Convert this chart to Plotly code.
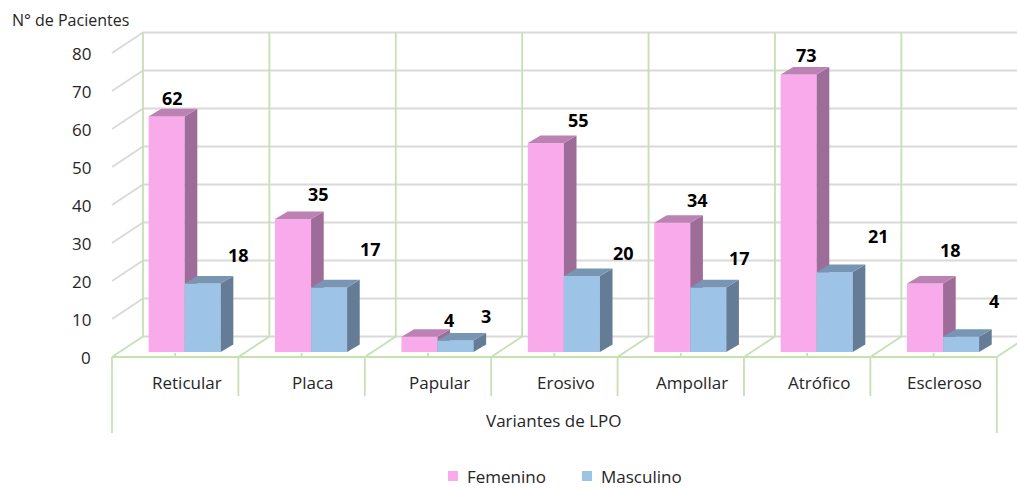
import plotly.graph_objects as go

# ---- data -------------------------------------------------------------
categories = ["Reticular", "Placa", "Papular", "Erosivo", "Ampollar", "Atrófico", "Escleroso"]
femenino = [62, 35, 4, 55, 34, 73, 18]
masculino = [18, 17, 3, 20, 17, 21, 4]
y_ticks = [0, 10, 20, 30, 40, 50, 60, 70, 80]

# value-label nudges in px (right, up) from each bar's front-top centre
fem_label_shift = [(6, 18), (25, 25), (30, 17), (33, 23), (25, 23), (8, 20), (25, 34)]
mas_label_shift = [(36, 29), (41, 38), (31, 25), (42, 23), (31, 29), (44, 36), (33, 36)]

# ---- pseudo-3D geometry (category units on x, value units on y) --------
WALL_DX, WALL_DY = 0.245, 5.4      # depth of the back wall
BAR_DX, BAR_DY = 0.10, 2.0         # depth of each bar
BAR_OFF_X, BAR_OFF_Y = 0.075, 1.32 # bars sit slightly behind the front edge
BAR_W = 0.285
X_RANGE = [-1.386, 6.660]
Y_RANGE = [-34.47, 93.95]
FIG_W, FIG_H = 1017, 488

GRID = "#D9D9D9"
GREEN = "#C6E0B4"
TEXT = "#262626"
FONT = "Open Sans"

PINK = dict(front="#F8AAEB", side="#9E6C99", top="#BC82B4")
BLUE = dict(front="#9DC3E6", side="#647C96", top="#7895B3")

n = len(categories)
left = -0.5
right = left + n

fig = go.Figure()


def seg_trace(segs, color, width=1.8, xa="x", ya="y"):
    xs, ys = [], []
    for (x0, y0), (x1, y1) in segs:
        xs += [x0, x1, None]
        ys += [y0, y1, None]
    return go.Scatter(x=xs, y=ys, mode="lines", line=dict(color=color, width=width),
                      hoverinfo="skip", showlegend=False, xaxis=xa, yaxis=ya)


# back wall + left wall gridlines (gray)
gray_segs = []
for v in y_ticks:
    gray_segs.append(((left + WALL_DX, v + WALL_DY), (X_RANGE[1] + 1, v + WALL_DY)))
for v in y_ticks[1:]:
    gray_segs.append(((left, v), (left + WALL_DX, v + WALL_DY)))
fig.add_trace(seg_trace(gray_segs, GRID))

# category frame, floor and back-wall verticals (green)
top_v = y_ticks[-1]
green_segs = [((left, 0), (right, 0))]
for k in range(n + 1):
    xb = left + k
    green_segs.append(((xb + WALL_DX, WALL_DY), (xb + WALL_DX, top_v + WALL_DY)))
    green_segs.append(((xb, 0), (xb + WALL_DX, WALL_DY)))
    depth = -20 if k in (0, n) else -10.3
    green_segs.append(((xb, 0), (xb, depth)))
for i in range(n):
    green_segs.append(((i, 0), (i, 1.1)))
fig.add_trace(seg_trace(green_segs, GREEN))


def add_series(name, values, colors, shift, xa, ya):
    centers = [i + BAR_OFF_X + shift for i in range(n)]
    sx, sy, tx, ty = [], [], [], []
    for xc, v in zip(centers, values):
        xl, xr = xc - BAR_W / 2, xc + BAR_W / 2
        b, h = BAR_OFF_Y, BAR_OFF_Y + v
        sx += [xr, xr + BAR_DX, xr + BAR_DX, xr, xr, None]
        sy += [b, b + BAR_DY, h + BAR_DY, h, b, None]
        tx += [xl, xr, xr + BAR_DX, xl + BAR_DX, xl, None]
        ty += [h, h, h + BAR_DY, h + BAR_DY, h, None]
    for xs, ys, col in ((sx, sy, colors["side"]), (tx, ty, colors["top"])):
        fig.add_trace(go.Scatter(x=xs, y=ys, mode="lines", fill="toself", fillcolor=col,
                                 line=dict(width=0, color=col), hoverinfo="skip",
                                 showlegend=False, xaxis=xa, yaxis=ya))
    fig.add_trace(go.Bar(x=centers, y=values, base=[BAR_OFF_Y] * n, width=BAR_W,
                         name=name, marker=dict(color=colors["front"], line=dict(width=0)),
                         showlegend=False, xaxis=xa, yaxis=ya))
    return centers


fem_centers = add_series("Femenino", femenino, PINK, -BAR_W / 2, "x2", "y2")
mas_centers = add_series("Masculino", masculino, BLUE, BAR_W / 2, "x3", "y3")

annotations = []
shapes = []
# value labels
for centers, values, shifts in ((fem_centers, femenino, fem_label_shift),
                                (mas_centers, masculino, mas_label_shift)):
    for xc, v, (dx, dy) in zip(centers, values, shifts):
        annotations.append(dict(x=xc, y=BAR_OFF_Y + v, xref="x", yref="y",
                                text=f"<b>{v}</b>", showarrow=False,
                                xshift=dx, yshift=dy, xanchor="center", yanchor="middle",
                                font=dict(family=FONT, size=18, color="#000000")))
# value-axis tick labels
for v in y_ticks:
    annotations.append(dict(x=-0.65, y=v, xref="x", yref="y", text=str(v), showarrow=False,
                            xanchor="right", yanchor="middle",
                            font=dict(family=FONT, size=17, color=TEXT)))
# category labels
for i, c in enumerate(categories):
    annotations.append(dict(x=i + 0.09, y=-6.8, xref="x", yref="y", text=c, showarrow=False,
                            xanchor="center", yanchor="middle",
                            font=dict(family=FONT, size=17, color=TEXT)))
# axis titles
annotations.append(dict(x=(n - 1) / 2, y=-16.6, xref="x", yref="y", text="Variantes de LPO",
                        showarrow=False, xanchor="center", yanchor="middle",
                        font=dict(family=FONT, size=17, color=TEXT)))
annotations.append(dict(x=-1.305, y=88.7, xref="x", yref="y", text="N° de Pacientes",
                        showarrow=False, xanchor="left", yanchor="middle",
                        font=dict(family=FONT, size=16, color=TEXT)))

# legend: colour swatch + series name, laid out along the bottom edge
legend_items = [("Femenino", PINK["front"], 448), ("Masculino", BLUE["front"], 582)]
legend_mid = 476
for label, col, px in legend_items:
    shapes.append(dict(type="rect", xref="paper", yref="paper",
                       x0=px / FIG_W, x1=(px + 10) / FIG_W,
                       y0=(FIG_H - legend_mid - 5) / FIG_H, y1=(FIG_H - legend_mid + 5) / FIG_H,
                       fillcolor=col, line=dict(width=0), layer="above"))
    annotations.append(dict(x=(px + 17) / FIG_W, y=(FIG_H - legend_mid) / FIG_H,
                            xref="paper", yref="paper", text=label, showarrow=False,
                            xanchor="left", yanchor="middle",
                            font=dict(family=FONT, size=17, color=TEXT)))

axis_common = dict(range=X_RANGE, visible=False, fixedrange=True)
yaxis_common = dict(range=Y_RANGE, visible=False, fixedrange=True)

fig.update_layout(
    width=FIG_W, height=FIG_H, autosize=False,
    margin=dict(l=0, r=0, t=0, b=0, pad=0, autoexpand=False),
    paper_bgcolor="white", plot_bgcolor="white",
    barmode="overlay",
    xaxis=axis_common, yaxis=yaxis_common,
    xaxis2=dict(axis_common, overlaying="x"), yaxis2=dict(yaxis_common, overlaying="y"),
    xaxis3=dict(axis_common, overlaying="x"), yaxis3=dict(yaxis_common, overlaying="y"),
    annotations=annotations,
    shapes=shapes,
    showlegend=False,
)

fig.write_html("out.html")
